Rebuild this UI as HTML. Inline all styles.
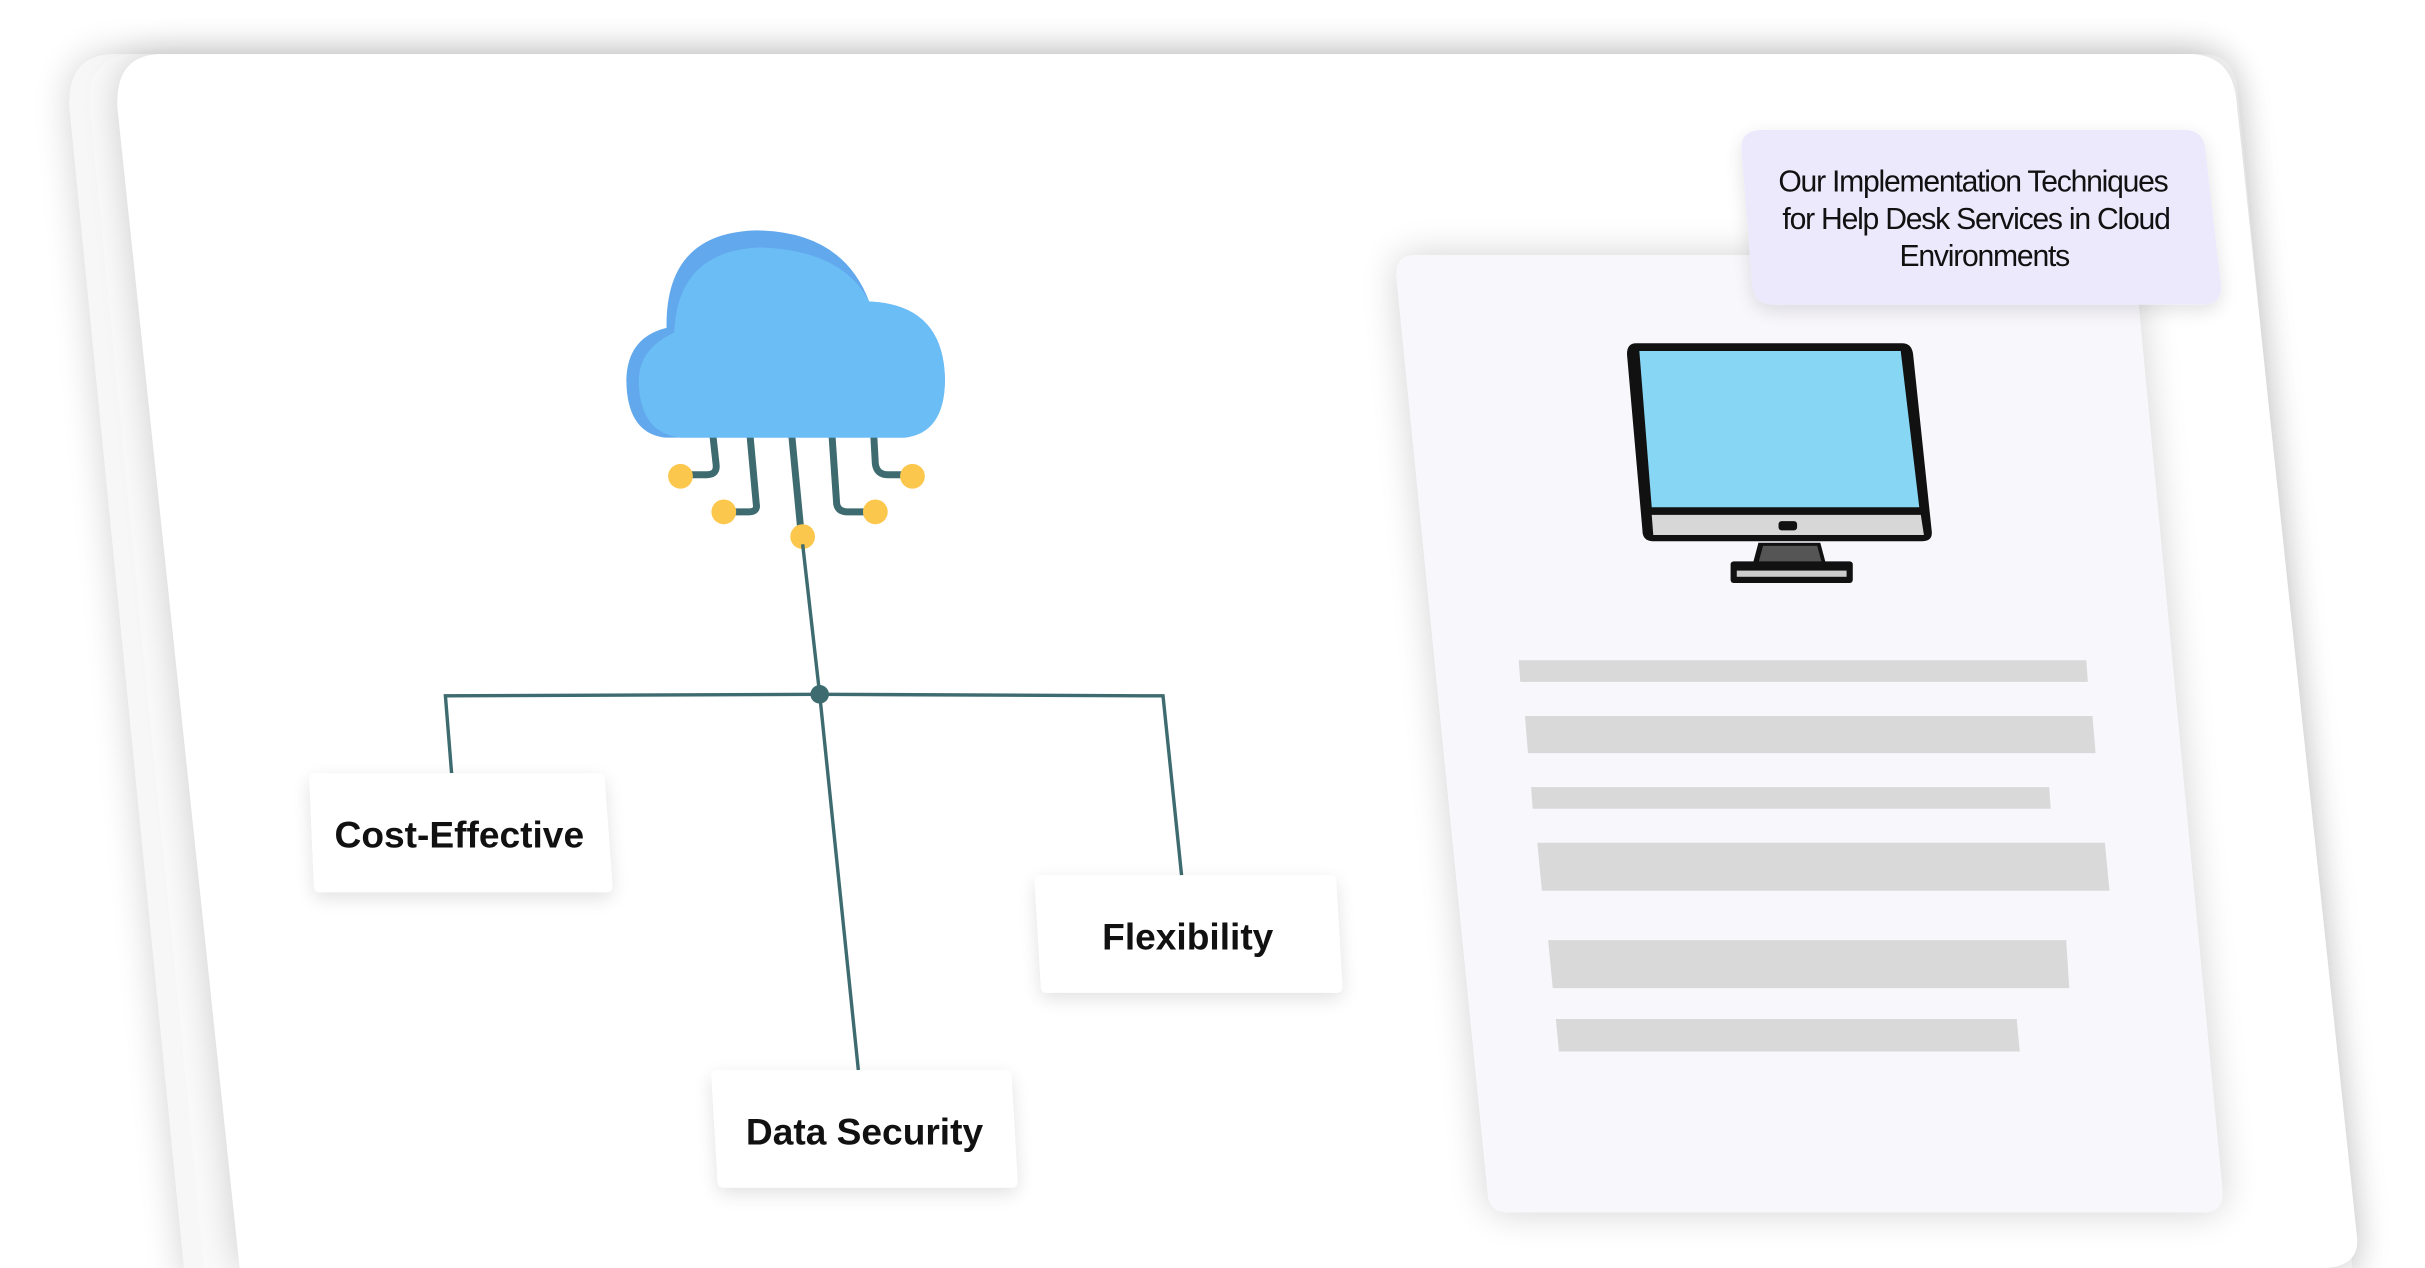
<!DOCTYPE html>
<html><head><meta charset="utf-8"><style>
html,body{margin:0;padding:0;background:#fff;}
svg{display:block}
</style></head><body>
<svg width="2425" height="1268" viewBox="0 0 1568 820" preserveAspectRatio="none" xmlns="http://www.w3.org/2000/svg">
<defs>
<filter id="sh" x="-10%" y="-10%" width="120%" height="120%"><feGaussianBlur in="SourceAlpha" stdDeviation="12"/><feOffset dx="0" dy="0"/><feComponentTransfer><feFuncA type="linear" slope="0.18"/></feComponentTransfer><feMerge><feMergeNode/><feMergeNode in="SourceGraphic"/></feMerge></filter>
<filter id="sh2" x="-20%" y="-20%" width="140%" height="140%"><feGaussianBlur in="SourceAlpha" stdDeviation="6"/><feOffset dx="0" dy="4"/><feComponentTransfer><feFuncA type="linear" slope="0.12"/></feComponentTransfer><feMerge><feMergeNode/><feMergeNode in="SourceGraphic"/></feMerge></filter>
</defs>
<!-- back cards -->
<path d="M75,35 L1420,35 Q1440,35 1442,60 L1520,830 L120,830 L45,70 Q43,35 75,35 Z" fill="#f7f7f7" filter="url(#sh)"/>
<path d="M88,35 L1425,35 Q1445,35 1447,60 L1522,830 L133,830 L58,70 Q56,35 88,35 Z" fill="#fafafa"/>
<path d="M105,35 L1415,35 Q1443,35 1446,65 L1524,800 Q1526,820 1500,820 L155,820 L76,70 Q74,35 105,35 Z" fill="#ffffff" filter="url(#sh)"/>
<!-- right panel -->
<path d="M915,165 L1370,165 Q1380,165 1381,178 L1437,770 Q1438,784 1425,784 L975,784 Q963,784 962,772 L903,180 Q902,165 915,165 Z" fill="#f8f7fc" filter="url(#sh)"/>
<!-- title box -->
<path d="M1140,84 L1412,84 Q1425,84 1426,97 L1436,184 Q1437,197 1424,197 L1147,197 Q1134,197 1133,184 L1126,97 Q1125,84 1140,84 Z" fill="#ece9fc" filter="url(#sh2)"/>
<text font-family="Liberation Sans, sans-serif" font-size="19.5" fill="#111" text-anchor="middle" letter-spacing="-0.8">
<tspan x="1278" y="124">Our Implementation Techniques</tspan>
<tspan x="1280" y="148">for Help Desk Services in Cloud</tspan>
<tspan x="1283" y="172">Environments</tspan></text>
<!-- monitor -->
<path d="M1058,222 L1230,222 Q1236,222 1237,229 L1249,343 Q1250,350 1243,350 L1069,350 Q1062,350 1062,343 L1052,229 Q1052,222 1058,222 Z" fill="#111"/>
<path d="M1060,227 L1229,227 L1241,328 L1068,328 Z" fill="#86d6f4"/>
<path d="M1068,333 L1242,333 L1244,346 L1069,346 Z" fill="#d7d7d7"/>
<rect x="1150" y="337" width="12" height="6" rx="2" fill="#111"/>
<path d="M1137,351 L1177,351 L1181,366 L1133,366 Z" fill="#111"/>
<path d="M1140,353 L1175,353 L1178,364 L1137,364 Z" fill="#555"/>
<rect x="1119" y="363" width="79" height="14" rx="2" fill="#111"/>
<rect x="1123" y="369" width="71" height="4" fill="#ccc"/>
<!-- bars -->
<g fill="#d9d9d9">
<polygon points="982,427 1349,427 1350,441 983,441"/>
<polygon points="986,463 1353,463 1355,487 988,487"/>
<polygon points="990,509 1325,509 1326,523 991,523"/>
<polygon points="994,545 1361,545 1364,576 997,576"/>
<polygon points="1001,608 1336,608 1338,639 1004,639"/>
<polygon points="1006,659 1304,659 1306,680 1008,680"/>
</g>
<!-- cloud wires -->
<g stroke="#3d6b6f" stroke-width="4.5" fill="none" stroke-linecap="round">
<path d="M461,282 L463,300 Q464,307 457,307 L445,307"/>
<path d="M485,282 L489,326 Q490,331 484,331 L472,331"/>
<path d="M512,282 L518,345"/>
<path d="M538,282 L541,326 Q542,331 548,331 L560,331"/>
<path d="M565,282 L566,300 Q567,307 574,307 L585,307"/>
</g>
<!-- cloud -->
<path d="M430,283 Q405,280 405,245 Q406,218 431,212 Q430,150 490,149 Q545,150 562,195 Q610,197 611,245 Q611,280 585,283 Z" fill="#62a8ec"/>
<path d="M440,283 Q413,280 413,245 Q414,225 436,215 Q438,162 492,160 Q545,162 562,195 Q610,197 611,245 Q611,280 585,283 Z" fill="#6bbdf5"/>
<g fill="#fcc74d">
<ellipse cx="440" cy="308" rx="8" ry="8"/>
<ellipse cx="468" cy="331" rx="8" ry="8"/>
<ellipse cx="519" cy="347" rx="8" ry="8"/>
<ellipse cx="566" cy="331" rx="8" ry="8"/>
<ellipse cx="590" cy="308" rx="8" ry="8"/>
</g>
<!-- connectors -->
<g stroke="#3d6b6f" stroke-width="2.2" fill="none">
<path d="M519,352 L530,449"/>
<path d="M530,449 L288,450 L292,500"/>
<path d="M530,449 L752,450 L764,566"/>
<path d="M530,449 L555,692"/>
</g>
<circle cx="530" cy="449" r="6" fill="#3d6b6f"/>
<!-- labels -->
<g filter="url(#sh2)" fill="#fff">
<path d="M204,500 L387,500 Q391,500 391,504 L396,573 Q396,577 392,577 L207,577 Q203,577 203,573 L200,504 Q200,500 204,500 Z"/>
<path d="M464,692 L650,692 Q654,692 654,696 L658,764 Q658,768 654,768 L468,768 Q464,768 464,764 L460,696 Q460,692 464,692 Z"/>
<path d="M673,566 L860,566 Q864,566 864,570 L868,638 Q868,642 864,642 L677,642 Q673,642 673,638 L669,570 Q669,566 673,566 Z"/>
</g>
<g font-family="Liberation Sans, sans-serif" font-weight="bold" font-size="24" fill="#111" text-anchor="middle">
<text x="297" y="548">Cost-Effective</text>
<text x="559" y="740">Data Security</text>
<text x="768" y="614">Flexibility</text>
</g>
</svg>
</body></html>
